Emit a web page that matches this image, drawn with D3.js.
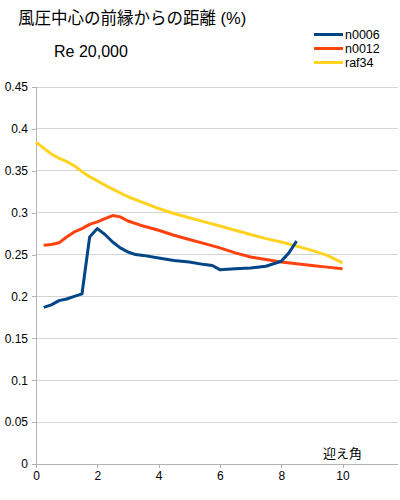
<!DOCTYPE html>
<html><head><meta charset="utf-8">
<script src="https://cdn.jsdelivr.net/npm/d3@7"></script>
<style>body{margin:0;background:#fff}svg{display:block}</style>
</head><body>
<script>
const seriesNames = ["n0006", "n0012", "raf34"];
const colors = ["#004586", "#ff420e", "#ffd320"];
const n0006X = [0.25,0.5,0.75,1.0,1.25,1.5,1.75,2.0,2.25,2.5,2.75,3.0,3.25,3.5,4.0,4.5,5.0,5.5,5.75,6.0,6.5,7.0,7.5,8.0,8.25,8.5];
const n0006Y = [0.187,0.190,0.195,0.197,0.200,0.203,0.271,0.281,0.274,0.265,0.258,0.253,0.250,0.249,0.246,0.243,0.241,0.238,0.237,0.232,0.233,0.234,0.236,0.242,0.252,0.266];
const n0012X = [0.25,0.5,0.75,1.0,1.25,1.5,1.75,2.0,2.25,2.5,2.75,3.0,3.5,4.0,4.5,5.0,5.5,6.0,6.5,7.0,7.5,8.0,8.5,9.0,9.5,10.0];
const n0012Y = [0.261,0.262,0.264,0.271,0.277,0.281,0.286,0.289,0.293,0.2965,0.295,0.290,0.284,0.279,0.273,0.268,0.263,0.258,0.252,0.247,0.244,0.241,0.239,0.237,0.235,0.233];
const raf34X = [0,0.25,0.5,0.75,1.0,1.25,1.5,1.75,2.0,2.5,3.0,3.5,4.0,4.5,5.0,5.5,6.0,6.5,7.0,7.5,8.0,8.5,9.0,9.5,10.0];
const raf34Y = [0.384,0.377,0.370,0.365,0.361,0.356,0.349,0.343,0.338,0.328,0.319,0.312,0.305,0.299,0.294,0.289,0.284,0.279,0.274,0.269,0.265,0.260,0.255,0.249,0.240];
const xTicks = [0,2,4,6,8,10];
const yTicks = [0,0.05,0.1,0.15,0.2,0.25,0.3,0.35,0.4,0.45];
const titleText = "風圧中心の前縁からの距離 (%)";
const subtitleText = "Re 20,000";
const xLabelText = "迎え角";

const font = "'Liberation Sans', Arial, 'Noto Sans CJK JP', sans-serif";
const svg = d3.select("body").append("svg").attr("width",400).attr("height",500)
  .style("font-family", font);

const x = d3.scaleLinear().domain([0, 11.8]).range([36, 397.7]);
const y = d3.scaleLinear().domain([0, 0.45]).range([464, 87]);

// gridlines
svg.append("g").selectAll("line").data(yTicks.filter(d=>d>0)).join("line")
  .attr("x1", x(0)).attr("x2", x(11.8)).attr("y1", d=>y(d)).attr("y2", d=>y(d))
  .attr("stroke", "#d4d4d4").attr("stroke-width", 1).attr("shape-rendering","crispEdges");

const yAxis = svg.append("g").attr("transform", `translate(${x(0)},0)`)
  .call(d3.axisLeft(y).tickValues(yTicks).tickSize(4).tickPadding(4).tickFormat(d=>String(+d.toFixed(2))));
const xAxis = svg.append("g").attr("transform", `translate(0,${y(0)})`)
  .call(d3.axisBottom(x).tickValues(xTicks).tickSize(4).tickPadding(3).tickFormat(d=>String(d)));
[yAxis, xAxis].forEach(a=>{
  a.select(".domain").attr("stroke", "#b3b3b3").attr("shape-rendering","crispEdges");
  a.selectAll(".tick line").attr("stroke", "#b3b3b3").attr("shape-rendering","crispEdges");
  a.selectAll("text").attr("fill","#000").style("font-size","12px").style("font-family", font);
});
xAxis.select(".domain").attr("d", `M${x(0)},0.5H${x(11.8)}`);
yAxis.select(".domain").attr("d", `M0.5,${y(0)}V${y(0.45)}`);

const data = [
  {name: seriesNames[0], xs: n0006X, ys: n0006Y, color: colors[0]},
  {name: seriesNames[1], xs: n0012X, ys: n0012Y, color: colors[1]},
  {name: seriesNames[2], xs: raf34X, ys: raf34Y, color: colors[2]}
];
const line = d3.line().x(d=>x(d[0])).y(d=>y(d[1]));
// draw in reverse so n0006 is on top
data.slice().reverse().forEach(s=>{
  svg.append("path").datum(s.xs.map((v,i)=>[v, s.ys[i]]))
    .attr("d", line).attr("fill","none").attr("stroke", s.color)
    .attr("stroke-width", 3).attr("stroke-linejoin","round");
});

// titles
svg.append("text").attr("x", 18).attr("y", 24).style("font-size","16.5px").attr("fill","#000").text(titleText);
svg.append("text").attr("x", 54).attr("y", 57).style("font-size","16px").attr("fill","#000").text(subtitleText);
svg.append("text").attr("x", 323).attr("y", 458).style("font-size","13px").attr("fill","#000").text(xLabelText);

// legend
const lg = svg.append("g");
data.forEach((s,i)=>{
  const cy = 34.5 + i*14;
  lg.append("line").attr("x1", 314).attr("x2", 343).attr("y1", cy).attr("y2", cy)
    .attr("stroke", s.color).attr("stroke-width", 3);
  lg.append("text").attr("x", 345).attr("y", cy + 4.5).style("font-size","12.5px").attr("fill","#000").text(s.name);
});
</script>
</body></html>
